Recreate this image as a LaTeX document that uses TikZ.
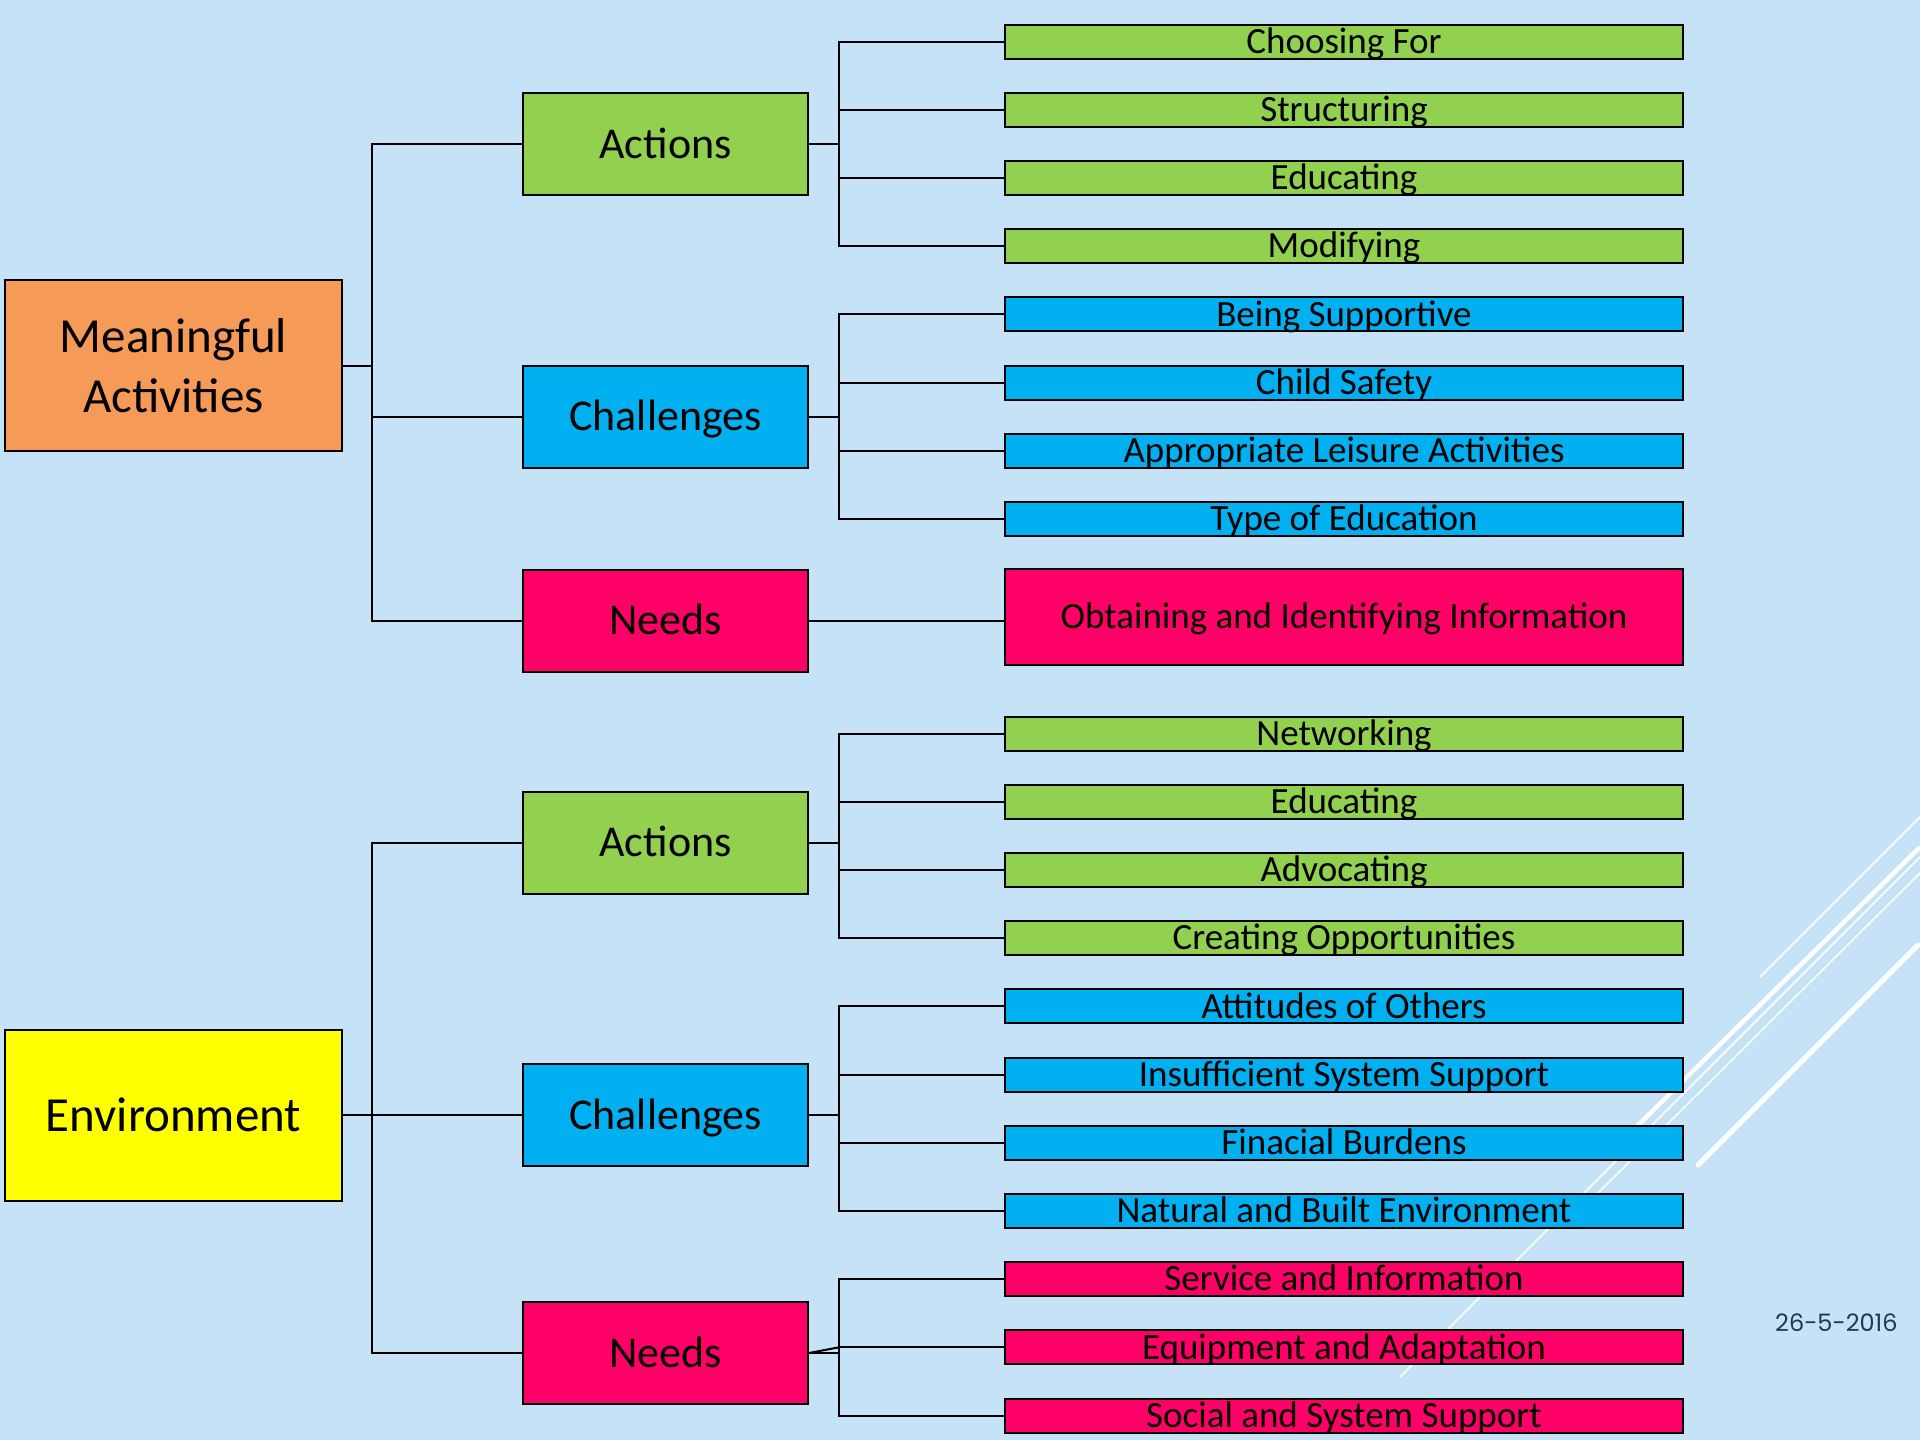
\documentclass[tikz,border=0pt]{standalone}
\usepackage{fontspec}
\setmainfont{Carlito}
\newfontfamily\datefont{Poppins}
\definecolor{bg}{HTML}{C5E2F6}
\definecolor{cgreen}{HTML}{92D050}
\definecolor{cblue}{HTML}{00B0F0}
\definecolor{cpink}{HTML}{FF0066}
\definecolor{corange}{HTML}{F59B57}
\definecolor{cyellow}{HTML}{FFFF00}
\definecolor{datecol}{HTML}{213A52}
\begin{document}
\begin{tikzpicture}[x=1pt,y=-1pt,
  box/.style={draw=black,line width=2pt,inner sep=0pt,anchor=center},
  rootbox/.style={box,minimum width=337pt,minimum height=171pt,align=center,font=\fontsize{49}{60}\selectfont},
  midbox/.style={box,minimum width=285pt,minimum height=102pt,font=\fontsize{44}{50}\selectfont,text height=28pt,text depth=0pt},
  leafbox/.style={box,minimum width=678pt,minimum height=34pt,font=\fontsize{37}{40}\selectfont,text height=23.5pt,text depth=0pt},
  conn/.style={draw=black,line width=2pt},
  deco/.style={draw=white,line width=1.5pt},
  decothick/.style={draw=white,line width=5pt,line cap=round}]
\fill[bg] (0,0) rectangle (1920,1440);
\useasboundingbox (0,0) rectangle (1920,1440);
% decorative lines
\draw[deco] (1400,1377) -- (1920,857);
\draw[deco] (1585,1206) -- (1920,873);
\draw[deco] (1760,977) -- (1920,817);
\draw[draw=white,line width=4.5pt] (1620,1143) -- (1920,847);
\draw[decothick] (1698,1165) -- (1918,945);
% root nodes
\node[rootbox,fill=corange] (MA) at (173.5,365.5) {Meaningful\\Activities};
\node[rootbox,fill=cyellow] (EN) at (173.5,1115) {Environment};
% mid nodes
\node[midbox,fill=cgreen] (A1) at (665.5,144) {Actions};
\node[midbox,fill=cblue] (C1) at (665.5,416.5) {Challenges};
\node[midbox,fill=cpink] (N1) at (665.5,620.5) {Needs};
\node[midbox,fill=cgreen] (A2) at (665.5,842.5) {Actions};
\node[midbox,fill=cblue] (C2) at (665.5,1115) {Challenges};
\node[midbox,fill=cpink] (N2) at (665.5,1353) {Needs};
% leaves upper
\node[leafbox,fill=cgreen] (a11) at (1344,41.6) {Choosing For};
\node[leafbox,fill=cgreen] (a12) at (1344,109.8) {Structuring};
\node[leafbox,fill=cgreen] (a13) at (1344,178) {Educating};
\node[leafbox,fill=cgreen] (a14) at (1344,246.2) {Modifying};
\node[leafbox,fill=cblue] (c11) at (1344,314.4) {Being Supportive};
\node[leafbox,fill=cblue] (c12) at (1344,382.6) {Child Safety};
\node[leafbox,fill=cblue] (c13) at (1344,450.8) {Appropriate Leisure Activities};
\node[leafbox,fill=cblue] (c14) at (1344,519) {Type of Education};
\node[leafbox,fill=cpink,minimum height=96pt] (n11) at (1344,617) {Obtaining and Identifying Information};
% leaves lower
\node[leafbox,fill=cgreen] (a21) at (1344,733.5) {Networking};
\node[leafbox,fill=cgreen] (a22) at (1344,801.7) {Educating};
\node[leafbox,fill=cgreen] (a23) at (1344,869.9) {Advocating};
\node[leafbox,fill=cgreen] (a24) at (1344,938.1) {Creating Opportunities};
\node[leafbox,fill=cblue] (c21) at (1344,1006.3) {Attitudes of Others};
\node[leafbox,fill=cblue] (c22) at (1344,1074.5) {Insufficient System Support};
\node[leafbox,fill=cblue] (c23) at (1344,1142.7) {Finacial Burdens};
\node[leafbox,fill=cblue] (c24) at (1344,1210.9) {Natural and Built Environment};
\node[leafbox,fill=cpink] (n21) at (1344,1279.1) {Service and Information};
\node[leafbox,fill=cpink] (n22) at (1344,1347.3) {Equipment and Adaptation};
\node[leafbox,fill=cpink] (n23) at (1344,1415.5) {Social and System Support};
% junctions
\coordinate (j1) at (372,365.5);
\coordinate (j2) at (372,1115);
\coordinate (ka1) at (839,144);
\coordinate (kc1) at (839,416.5);
\coordinate (ka2) at (839,842.5);
\coordinate (kc2) at (839,1115);
\coordinate (kn2) at (839,1353);
% root connectors
\draw[conn] (MA.east) -- (j1);
\draw[conn] (A1.west) -| (j1);
\draw[conn] (N1.west) -| (j1);
\draw[conn] (C1.west) -- (C1.west -| j1);
\draw[conn] (EN.east) -- (j2);
\draw[conn] (A2.west) -| (j2);
\draw[conn] (N2.west) -| (j2);
\draw[conn] (C2.west) -- (j2);
% mid to leaves
\draw[conn] (A1.east) -- (ka1);
\foreach \n in {a11,a12,a13,a14} \draw[conn] (\n.west) -| (ka1);
\draw[conn] (C1.east) -- (kc1);
\foreach \n in {c11,c12,c13,c14} \draw[conn] (\n.west) -| (kc1);
\draw[conn] (N1.east) -- (N1.east -| n11.west);
\draw[conn] (A2.east) -- (ka2);
\foreach \n in {a21,a22,a23,a24} \draw[conn] (\n.west) -| (ka2);
\draw[conn] (C2.east) -- (kc2);
\foreach \n in {c21,c22,c23,c24} \draw[conn] (\n.west) -| (kc2);
\draw[conn] (N2.east) -- (kn2);
\draw[conn] (N2.east) -- (n22.west -| kn2);
\foreach \n in {n21,n22,n23} \draw[conn] (\n.west) -| (kn2);
% date
\node[anchor=base west,inner sep=0pt,font=\datefont\fontsize{24}{28}\selectfont,text=datecol] (date) at (1775,1331) {26-5-2016};
\end{tikzpicture}
\end{document}
